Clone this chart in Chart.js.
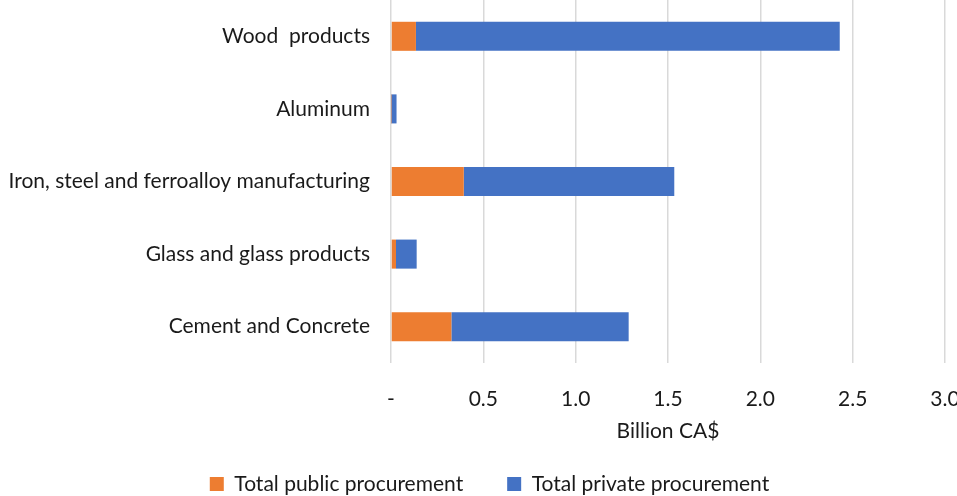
<!DOCTYPE html>
<html><head><meta charset="utf-8">
<script src="https://cdn.jsdelivr.net/npm/chart.js@4"></script>
<style>
html,body{margin:0;padding:0;overflow:hidden;width:957px;height:496px;background:#fff}
#wrap{position:absolute;left:-100px;top:0;width:1100px;height:496px}
</style></head><body>
<div id="wrap"><canvas id="c"></canvas></div>
<script>
const categories = ["Wood  products", "Aluminum", "Iron, steel and ferroalloy manufacturing", "Glass and glass products", "Cement and Concrete"];
const publicProcurement = [0.135, 0.002, 0.394, 0.027, 0.327];
const privateProcurement = [2.295, 0.028, 1.140, 0.112, 0.960];
const xTickValues = [0, 0.5, 1.0, 1.5, 2.0, 2.5, 3.0];
const xTickLabels = ["-", "0.5", "1.0", "1.5", "2.0", "2.5", "3.0"];
const seriesNames = ["Total public procurement", "Total private procurement"];

const FONT = "Lato, 'Open Sans', sans-serif";
const TXT = '#1a1a1a';
const CANVAS_OFFSET = 100;      // canvas starts 100px left of the page
const LEGEND_CENTER = 489.5;    // page x of legend centre

const legendShift = {
  id: 'legendShift',
  afterLayout(chart) {
    const lg = chart.legend;
    if (!lg) return;
    const dx = (CANVAS_OFFSET + LEGEND_CENTER) - (lg.left + lg.right) / 2;
    lg.left += dx; lg.right += dx;
  }
};

new Chart(document.getElementById('c'), {
  type: 'bar',
  data: {
    labels: categories,
    datasets: [
      { label: seriesNames[0], data: publicProcurement, backgroundColor: '#ED7D31', barPercentage: 0.4, categoryPercentage: 1 },
      { label: seriesNames[1], data: privateProcurement, backgroundColor: '#4472C4', barPercentage: 0.4, categoryPercentage: 1 }
    ]
  },
  plugins: [legendShift],
  options: {
    indexAxis: 'y',
    responsive: true,
    maintainAspectRatio: false,
    animation: false,
    layout: { padding: { left: 0, right: 55, top: 0, bottom: -8.5 } },
    plugins: {
      tooltip: { enabled: false },
      legend: {
        position: 'bottom',
        labels: { font: { family: FONT, size: 21 }, color: TXT, boxWidth: 14, boxHeight: 14, padding: 44 }
      }
    },
    scales: {
      x: {
        stacked: true, min: 0, max: 3,
        afterBuildTicks: s => { s.ticks = xTickValues.map(v => ({ value: v })); },
        afterFit: s => { s.height = 66.5; },
        ticks: { font: { family: FONT, size: 21 }, color: TXT, padding: 24, maxRotation: 0,
          callback: (v, i) => xTickLabels[i] },
        grid: { color: '#d9d9d9', lineWidth: 1.5, drawTicks: false },
        border: { display: false },
        title: { display: true, text: 'Billion CA$', font: { family: FONT, size: 21 }, color: TXT, padding: { top: 0, bottom: -14 } }
      },
      y: {
        stacked: true,
        afterFit: s => { s.width = CANVAS_OFFSET + 391; s.paddingTop = 0; s.paddingBottom = 0; },
        grid: { display: false },
        border: { display: false },
        ticks: { font: { family: FONT, size: 21 }, color: TXT, padding: 13 }
      }
    }
  }
});
</script>
</body></html>
